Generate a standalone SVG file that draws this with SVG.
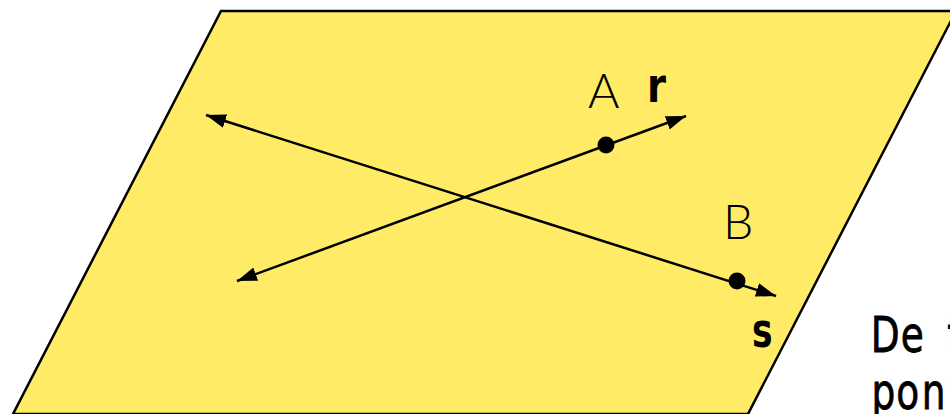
<svg xmlns="http://www.w3.org/2000/svg" width="950" height="414" viewBox="0 0 950 414">
<style>
.ln{stroke:#000;stroke-width:2.5;fill:none}
.lbl{font-family:Lato,"Open Sans","DejaVu Sans",sans-serif;font-weight:300;font-size:48px;fill:#000}
.nm{font-family:"DejaVu Sans",sans-serif;font-weight:bold;font-size:48px;fill:#000}
.tx{font-family:"DejaVu Sans",sans-serif;font-weight:normal;font-size:50px;fill:#000;stroke:#000;stroke-width:0.8}
</style>
<defs>
<marker id="ah2" viewBox="0 0 20 14" refX="20" refY="7" markerWidth="20" markerHeight="14" markerUnits="userSpaceOnUse" orient="auto-start-reverse">
<path d="M0,0 L20,7 L0,14 Z" fill="#000"/>
</marker>
</defs>
<g id="plane">
<polygon points="221,11 956,11 748,414 13,414" fill="#ffeb66" stroke="#000" stroke-width="2.5"/>
</g>
<g id="connectors">
<line id="r" class="ln" x1="237" y1="281" x2="686" y2="116" marker-start="url(#ah2)" marker-end="url(#ah2)"/>
<line id="s" class="ln" x1="206" y1="115" x2="776" y2="296" marker-start="url(#ah2)" marker-end="url(#ah2)"/>
</g>
<g id="pointA">
<circle cx="606" cy="145" r="8.5" fill="#000"/>
<text class="lbl" x="588" y="108">A</text>
</g>
<g id="labelR"><text class="nm" transform="translate(647,102) scale(0.8,1)">r</text></g>
<g id="pointB">
<circle cx="737" cy="281" r="8.5" fill="#000"/>
<text class="lbl" x="723" y="239">B</text>
</g>
<g id="labelS"><text class="nm" transform="translate(752,347) scale(0.72,1)">s</text></g>
<g id="caption">
<text class="tx" transform="translate(873,352) scale(0.75,1)"><tspan x="-3">D</tspan><tspan x="37">e</tspan><tspan x="99">t</tspan></text>
<text class="tx" transform="translate(873,409) scale(0.75,1)"><tspan x="-2">p</tspan><tspan x="31">o</tspan><tspan x="65">n</tspan><tspan x="102">t</tspan></text>
</g>
</svg>
